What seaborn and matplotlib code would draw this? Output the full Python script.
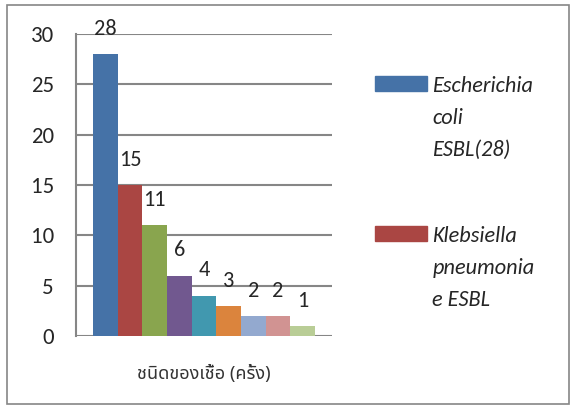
import matplotlib
matplotlib.use("Agg")
import matplotlib.pyplot as plt
from matplotlib.legend_handler import HandlerPatch
import seaborn as sns
import pandas as pd

# ข้อมูลจากกราฟ
category = "ชนิดของเชื้อ (ครั้ง)"
organisms = ["Escherichia coli ESBL(28)", "Klebsiella pneumoniae ESBL",
             "Series 3", "Series 4", "Series 5", "Series 6",
             "Series 7", "Series 8", "Series 9"]
counts = [28, 15, 11, 6, 4, 3, 2, 2, 1]
legend_labels = ["Escherichia\ncoli\nESBL(28)", "Klebsiella\npneumonia\ne ESBL"]
colors = ["#4572A7", "#AA4643", "#89A54E", "#71588F", "#4198AF",
          "#DB843D", "#93A9CF", "#D19392", "#B9CD96"]

df = pd.DataFrame({"cat": [category] * len(counts), "org": organisms, "n": counts})

sns.set_style("white")
latin = ["Carlito", "Lato", "DejaVu Sans"]
thai = ["Noto Sans Thai", "Sarabun", "DejaVu Sans"]
plt.rcParams["font.family"] = latin

fig = plt.figure(figsize=(5.72, 4.07), dpi=100)
ax = fig.add_axes([0.1329, 0.1744, 0.4476, 0.7421])

sns.barplot(data=df, x="cat", y="n", hue="org", palette=colors,
            width=0.867, gap=0, saturation=1, legend=False, linewidth=0, ax=ax)

for cont in ax.containers:
    ax.bar_label(cont, padding=11, fontsize=16)

ax.set_xlim(-0.5, 0.5)
ax.set_ylim(0, 30)
ax.set_yticks([0, 5, 10, 15, 20, 25, 30])
ax.grid(axis="y", color="#868686", linewidth=1.5)
ax.set_axisbelow(True)
for s in ["top", "right", "bottom"]:
    ax.spines[s].set_visible(False)
ax.spines["left"].set_color("#868686")
ax.spines["left"].set_linewidth(1.5)
ax.tick_params(axis="y", length=6, width=1.5, color="#868686", labelsize=16.5, pad=10)
ax.tick_params(axis="x", length=0, pad=21)
ax.set_xticks([-0.5, 0.5], minor=True)
ax.tick_params(axis="x", which="minor", length=6, width=1.5, color="#868686")
for lab in ax.get_xticklabels():
    lab.set_family(thai)
    lab.set_fontsize(13)
    lab.set_color("#333333")
ax.set_xlabel("")
ax.set_ylabel("")


# กล่องสีของ legend ให้อยู่ระดับบรรทัดแรก
def top_patch(legend, orig_handle, xdescent, ydescent, width, height, fontsize):
    return plt.Rectangle((-xdescent, -ydescent + 25), width, height)


handles = [plt.Rectangle((0, 0), 1, 1, color=c) for c in colors[:2]]
leg = fig.legend(handles, legend_labels, loc="upper left", bbox_to_anchor=(0.621, 0.862),
                 frameon=False, prop={"style": "italic", "size": 16},
                 handlelength=2.35, handleheight=0.68, labelspacing=2.95, handletextpad=0.22,
                 handler_map={plt.Rectangle: HandlerPatch(patch_func=top_patch)})
for t in leg.get_texts():
    t.set_linespacing(1.75)

fig.patches.append(plt.Rectangle((0.012, 0.008), 0.982, 0.98, transform=fig.transFigure,
                                 fill=False, edgecolor="#868686", linewidth=1.2))
fig.savefig("out.png", dpi=100)
